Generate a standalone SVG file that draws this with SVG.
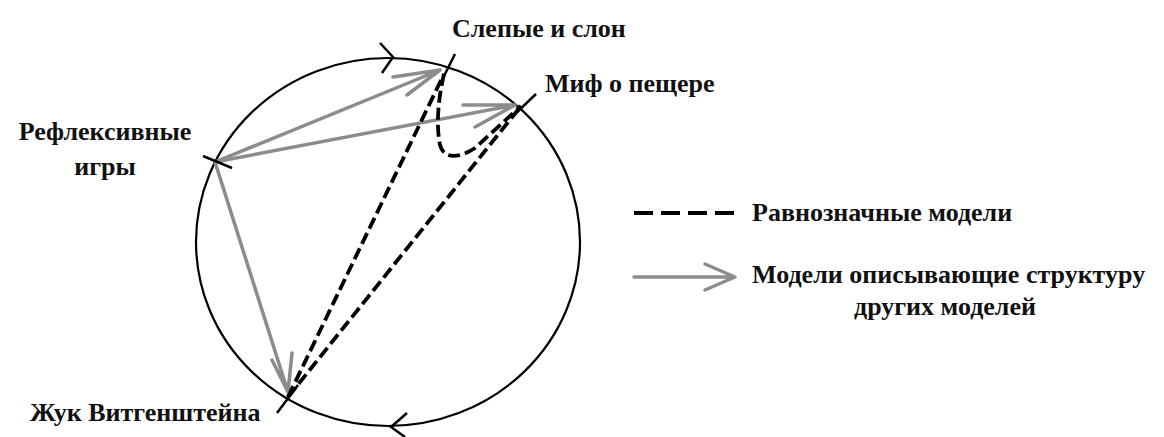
<svg xmlns="http://www.w3.org/2000/svg" width="1164" height="437" viewBox="0 0 1164 437">
<style>
.lbl{font-family:"Liberation Serif","Times New Roman",serif;font-weight:bold;font-size:26px;fill:#111}
.circ{fill:none;stroke:#000;stroke-width:2.2}
.tick{stroke:#000;stroke-width:2.5;fill:none}
.gray{stroke:#8c8c8c;stroke-width:3.5;fill:none;stroke-linecap:round;stroke-linejoin:round}
.dash{stroke:#000;stroke-width:3.8;fill:none;stroke-dasharray:12 5}
</style>
<rect width="1164" height="437" fill="#fff"/>
<g id="circle">
<ellipse class="circ" cx="388" cy="242" rx="192" ry="184"/>
<path class="tick" d="M380,43 L393,57 L382,73"/>
<path class="tick" d="M407,413 L391,427 L405,437"/>
</g>
<g id="connectors">
<path class="gray" d="M215,162 L440,70 M393,77 L440,70 L407,95"/>
<path class="gray" d="M215,162 L515,105 M463,105 L515,105 L475,127"/>
<path class="gray" d="M215,162 L288,392 M272,360 L288,392 L292,353"/>
<path class="dash" d="M288,397 L444,74"/>
<path class="dash" d="M288,397 L521,106"/>
<path class="dash" d="M444,74 C438,100 436,125 440,145 C444,160 460,158 475,148 L521,106"/>
</g>
<g id="node-slepye">
<line class="tick" x1="455" y1="54" x2="443" y2="78"/>
<text class="lbl" x="452" y="37">Слепые и слон</text>
</g>
<g id="node-mif">
<line class="tick" x1="536" y1="94" x2="512" y2="117"/>
<text class="lbl" x="545" y="92">Миф о пещере</text>
</g>
<g id="node-refl">
<line class="tick" x1="203" y1="156" x2="232" y2="168"/>
<text class="lbl" x="105" y="140" text-anchor="middle">Рефлексивные</text>
<text class="lbl" x="105" y="175" text-anchor="middle">игры</text>
</g>
<g id="node-zhuk">
<line class="tick" x1="298" y1="385" x2="277" y2="413"/>
<text class="lbl" x="30" y="421">Жук Витгенштейна</text>
</g>
<g id="legend">
<line x1="634" y1="213" x2="740" y2="213" stroke="#000" stroke-width="4" stroke-dasharray="19 8"/>
<text class="lbl" x="752" y="221">Равнозначные модели</text>
<path class="gray" d="M634,277 L735,277 M705,264 L735,277 L705,290" stroke-width="4"/>
<text class="lbl" x="752" y="283">Модели описывающие структуру</text>
<text class="lbl" x="945" y="315" text-anchor="middle">других моделей</text>
</g>
</svg>
